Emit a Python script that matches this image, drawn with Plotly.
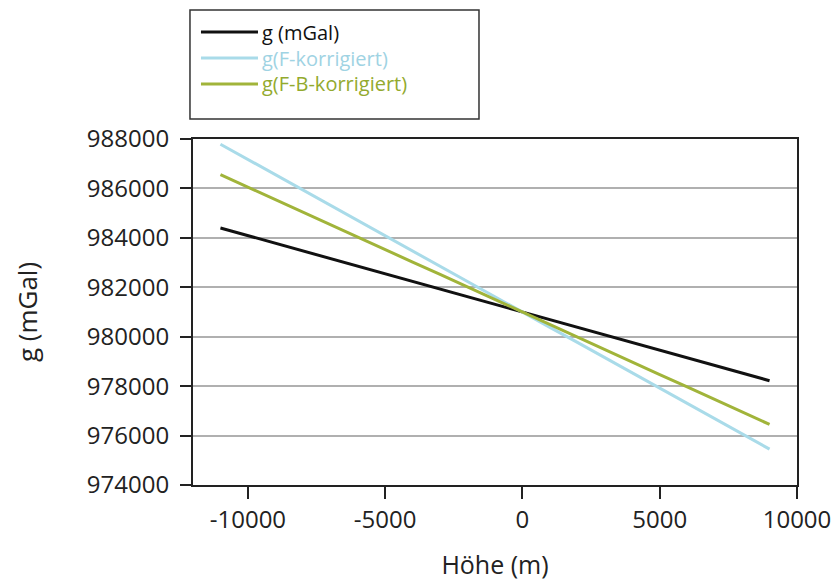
import plotly.graph_objects as go

# Height above/below reference level (m)
hoehe = [-11000, -10000, -9000, -8000, -7000, -6000, -5000, -4000, -3000, -2000, -1000,
         0, 1000, 2000, 3000, 4000, 5000, 6000, 7000, 8000, 9000]

# Measured gravity (mGal)
g_mgal = [984400, 984090, 983780, 983470, 983160, 982850, 982540, 982230, 981920, 981610, 981300,
          981000, 980690, 980380, 980070, 979760, 979450, 979140, 978830, 978520, 978220]

# Free-air corrected gravity (mGal)
g_f = [987790, 987170, 986550, 985940, 985320, 984700, 984090, 983470, 982850, 982230, 981620,
       981000, 980380, 979770, 979150, 978530, 977910, 977300, 976680, 976060, 975450]

# Free-air + Bouguer corrected gravity (mGal)
g_fb = [986560, 986050, 985550, 985040, 984540, 984030, 983530, 983020, 982520, 982010, 981510,
        981000, 980490, 979990, 979480, 978980, 978470, 977970, 977460, 976960, 976450]

series_names = ["g (mGal)", "g(F-korrigiert)", "g(F-B-korrigiert)"]
series_values = [g_mgal, g_f, g_fb]

x_ticks = [-10000, -5000, 0, 5000, 10000]
y_ticks = [974000, 976000, 978000, 980000, 982000, 984000, 986000, 988000]

FONT = "Open Sans"
INK = "#222222"
COLORS = ["#111111", "#a9dbe9", "#a1b43a"]
LEGEND_TEXT = ["#111111", "#9fd3e3", "#93aa2e"]

fig = go.Figure()
for name, vals, col in zip(series_names, series_values, COLORS):
    fig.add_trace(go.Scatter(x=hoehe, y=vals, mode="lines", name=name,
                             line=dict(color=col, width=3), showlegend=False))

# Legend box above the plot area (paper coordinates)
fig.add_shape(type="rect", xref="paper", yref="paper",
              x0=-0.005, x1=0.4735, y0=1.058, y1=1.373,
              line=dict(color="#333333", width=1.5), fillcolor="white", layer="above")
row_y = [1.3092, 1.2341, 1.1590]
for name, col, tcol, ry in zip(series_names, COLORS, LEGEND_TEXT, row_y):
    fig.add_shape(type="line", xref="paper", yref="paper",
                  x0=0.0132, x1=0.1076, y0=ry, y1=ry,
                  line=dict(color=col, width=3), layer="above")
    fig.add_annotation(xref="paper", yref="paper", x=0.1125, y=ry,
                       xanchor="left", yanchor="middle", showarrow=False, borderpad=0,
                       text=name, font=dict(size=20, family=FONT, color=tcol))

fig.update_layout(
    width=837, height=581,
    margin=dict(l=193, r=40, t=139, b=96),
    paper_bgcolor="white", plot_bgcolor="white",
    font=dict(family=FONT, color=INK),
    showlegend=False,
    xaxis=dict(
        range=[-12000, 10000], tickvals=x_ticks, ticktext=[str(v) for v in x_ticks],
        showgrid=False, zeroline=False, automargin=False,
        showline=True, linecolor=INK, linewidth=2, mirror=True,
        ticks="outside", ticklen=12, tickcolor=INK, tickwidth=1.5,
        tickfont=dict(size=24, family=FONT, color=INK),
        title=dict(text="Höhe (m)", font=dict(size=25, family=FONT, color=INK), standoff=24),
    ),
    yaxis=dict(
        range=[974000, 988000], tickvals=y_ticks, ticktext=[str(v) for v in y_ticks],
        showgrid=True, gridcolor="#b0b0b0", gridwidth=1.5, zeroline=False, automargin=False,
        showline=True, linecolor=INK, linewidth=2, mirror=True,
        ticks="outside", ticklen=11, tickcolor=INK, tickwidth=1.5,
        ticklabelstandoff=6,
        tickfont=dict(size=24, family=FONT, color=INK),
        title=dict(text="g (mGal)", font=dict(size=26, family=FONT, color=INK), standoff=42),
    ),
)

fig.write_html("out.html")
